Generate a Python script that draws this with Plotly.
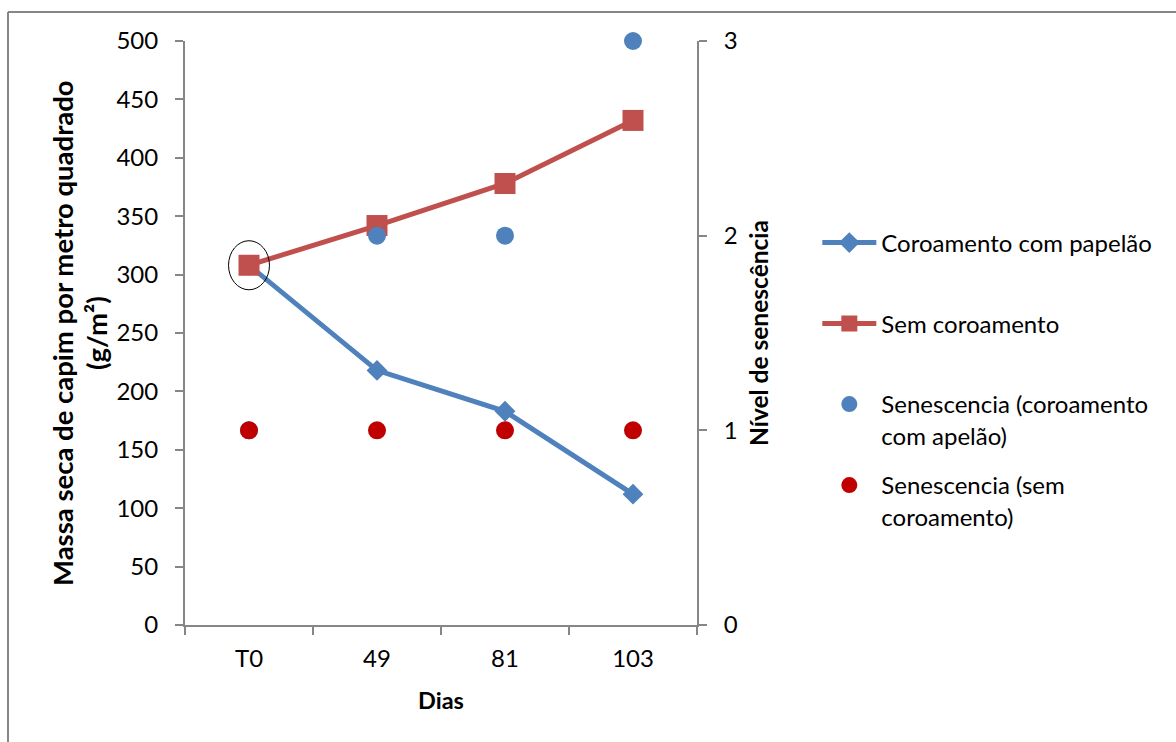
import plotly.graph_objects as go

# Days after start of the trial
dias = ["T0", "49", "81", "103"]

# Dry grass mass per square metre (g/m²)
massa_com_papelao = [308, 218, 183, 112]
massa_sem_coroamento = [308, 342, 378, 432]

# Senescence level (0-3 scale)
senescencia_com_papelao = [1, 2, 2, 3]
senescencia_sem_coroamento = [1, 1, 1, 1]

FONT = "Lato"
BLUE = "#4F81BD"
RED = "#C0504D"
DARK_RED = "#C00000"
AXIS = "#868686"

fig = go.Figure()

fig.add_trace(go.Scatter(
    x=dias, y=senescencia_com_papelao, yaxis="y2", mode="markers",
    name="Senescencia (coroamento<br>com apelão)",
    marker=dict(symbol="circle", size=18, color=BLUE),
    cliponaxis=False, legend="legend3",
))
fig.add_trace(go.Scatter(
    x=dias, y=senescencia_sem_coroamento, yaxis="y2", mode="markers",
    name="Senescencia (sem<br>coroamento)",
    marker=dict(symbol="circle", size=18, color=DARK_RED),
    cliponaxis=False, legend="legend4",
))
fig.add_trace(go.Scatter(
    x=dias, y=massa_com_papelao, mode="lines+markers",
    name="Coroamento com papelão",
    line=dict(color=BLUE, width=5),
    marker=dict(symbol="diamond", size=16, color=BLUE),
    cliponaxis=False, legend="legend",
))
fig.add_trace(go.Scatter(
    x=dias, y=massa_sem_coroamento, mode="lines+markers",
    name="Sem coroamento",
    line=dict(color=RED, width=5),
    marker=dict(symbol="square", size=21, color=RED),
    cliponaxis=False, legend="legend2",
))

legend_common = dict(
    font=dict(family=FONT, size=24, color="black"),
    bgcolor="rgba(0,0,0,0)", borderwidth=0,
    xanchor="left", yanchor="middle", itemwidth=54, valign="top",
)
LEG_X = 1.235

# left axis title, split over two rotated lines
title_font = dict(family=FONT, size=27.5, color="black")
y_title = [
    dict(text="<b>Massa seca de capim por metro quadrado</b>", x=(62 - 185) / 512),
    dict(text="<b>(g/m²)</b>", x=(96 - 185) / 512),
]
annotations = [
    dict(text=t["text"], x=t["x"], y=0.5, xref="paper", yref="paper",
         xanchor="center", yanchor="middle", textangle=-90,
         showarrow=False, font=title_font)
    for t in y_title
]

fig.update_layout(
    width=1176, height=742,
    margin=dict(l=185, r=479, t=41, b=117),
    paper_bgcolor="white", plot_bgcolor="white",
    font=dict(family=FONT, size=24, color="black"),
    showlegend=True,
    legend=dict(x=LEG_X, y=(625 - 243) / 584, **legend_common),
    legend2=dict(x=LEG_X, y=(625 - 324) / 584, **legend_common),
    legend3=dict(x=LEG_X, y=(625 - 420) / 584, **legend_common),
    legend4=dict(x=LEG_X, y=(625 - 501) / 584, **legend_common),
    annotations=annotations,
    xaxis=dict(
        type="category", range=[-0.5, 3.5],
        showline=True, linecolor=AXIS, linewidth=2,
        ticks="outside", tickson="boundaries", ticklen=8,
        tickcolor=AXIS, tickwidth=2, showgrid=False, zeroline=False,
        ticklabelstandoff=11,
        title=dict(text="<b>Dias</b>", font=dict(family=FONT, size=23.5), standoff=22),
    ),
    yaxis=dict(
        range=[0, 500], dtick=50,
        showline=True, linecolor=AXIS, linewidth=2,
        ticks="outside", ticklen=8, tickcolor=AXIS, tickwidth=2,
        showgrid=False, zeroline=False, ticklabelstandoff=12,
    ),
    yaxis2=dict(
        range=[0, 3], dtick=1, overlaying="y", side="right",
        showline=True, linecolor=AXIS, linewidth=2,
        ticks="outside", ticklen=8, tickcolor=AXIS, tickwidth=2,
        showgrid=False, zeroline=False, ticklabelstandoff=12,
        title=dict(text="<b>Nível de senescência</b>",
                   font=dict(family=FONT, size=24.5), standoff=14),
    ),
    shapes=[
        # ellipse highlighting the shared starting point
        dict(type="circle", xref="x", yref="y",
             x0=-0.16, x1=0.16, y0=287, y1=329,
             line=dict(color="black", width=1)),
        # chart frame (left and top edges)
        dict(type="line", xref="paper", yref="paper",
             x0=(8 - 185) / 512, x1=(8 - 185) / 512,
             y0=(625 - 760) / 584, y1=(625 - 12) / 584,
             line=dict(color=AXIS, width=2)),
        dict(type="line", xref="paper", yref="paper",
             x0=(8 - 185) / 512, x1=(1200 - 185) / 512,
             y0=(625 - 12) / 584, y1=(625 - 12) / 584,
             line=dict(color=AXIS, width=2)),
    ],
)

fig.write_html("out.html")
